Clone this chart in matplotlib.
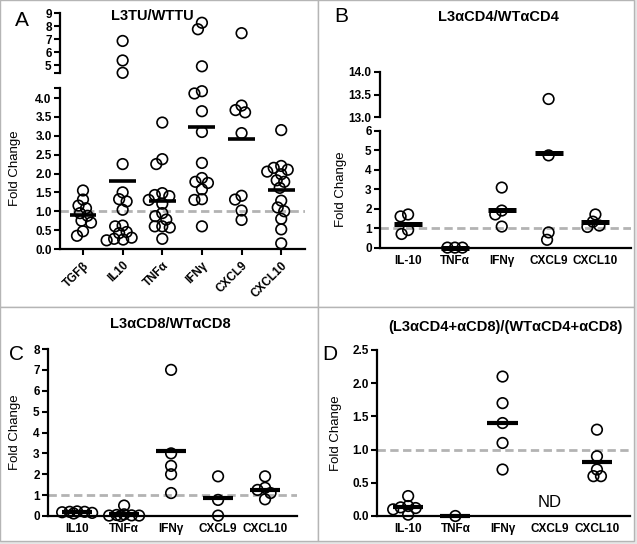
import numpy as np
import matplotlib
matplotlib.use('Agg')
import matplotlib.pyplot as plt
from matplotlib.patches import Rectangle

plt.rcParams['font.family'] = ['Liberation Sans', 'DejaVu Sans']
plt.rcParams['font.weight'] = 'bold'

# Panel A - L3TU/WTTU
cats_a = ['TGFβ', 'IL10', 'TNFα', 'IFNγ', 'CXCL9', 'CXCL10']
tgfb_a = [1.31, 1.55, 1.15, 1.08, 0.95, 0.88, 0.75, 0.70, 0.47, 0.35]
il10_a = [6.85, 5.35, 4.40, 2.25, 1.50, 1.32, 1.26, 1.04, 0.62, 0.60, 0.45, 0.42, 0.30, 0.27, 0.25, 0.23]
tnfa_a = [3.35, 2.38, 2.25, 1.48, 1.43, 1.40, 1.30, 1.20, 0.95, 0.87, 0.78, 0.60, 0.60, 0.57, 0.27]
ifng_a = [8.25, 7.75, 4.90, 4.18, 4.12, 3.65, 3.10, 2.28, 1.88, 1.78, 1.75, 1.58, 1.32, 1.30, 0.60]
cxcl9_a = [7.45, 3.80, 3.68, 3.62, 3.07, 1.41, 1.31, 1.02, 0.77]
cxcl10_a = [3.15, 2.20, 2.15, 2.10, 2.05, 1.98, 1.82, 1.78, 1.62, 1.28, 1.10, 1.00, 0.80, 0.52, 0.15]
mean_a = [0.90, 1.79, 1.28, 3.24, 2.91, 1.57]

# Panel B - L3aCD4/WTaCD4
cats_b = ['IL-10', 'TNFα', 'IFNγ', 'CXCL9', 'CXCL10']
il10_b = [1.72, 1.62, 0.92, 0.72]
tnfa_b = [0.02, 0.02, 0.02]
ifng_b = [3.10, 1.92, 1.72, 1.10]
cxcl9_b = [13.40, 4.75, 0.80, 0.42]
cxcl10_b = [1.72, 1.35, 1.15, 1.08]
mean_b = [1.22, 0.0, 1.95, 4.85, 1.33]

# Panel C - L3aCD8/WTaCD8
cats_c = ['IL10', 'TNFα', 'IFNγ', 'CXCL9', 'CXCL10']
il10_c = [0.22, 0.20, 0.20, 0.18, 0.15, 0.12]
tnfa_c = [0.50, 0.08, 0.05, 0.03, 0.02, 0.02, 0.0]
ifng_c = [7.0, 3.0, 2.4, 2.0, 1.1]
cxcl9_c = [1.9, 0.77, 0.02]
cxcl10_c = [1.9, 1.35, 1.25, 1.10, 0.80]
mean_c = [0.18, 0.10, 3.10, 0.87, 1.25]

# Panel D - (L3aCD4+aCD8)/(WTaCD4+aCD8)
cats_d = ['IL-10', 'TNFα', 'IFNγ', 'CXCL9', 'CXCL10']
il10_d = [0.30, 0.15, 0.13, 0.12, 0.10, 0.02]
tnfa_d = [0.0]
ifng_d = [2.1, 1.7, 1.4, 1.1, 0.7]
cxcl9_d = []
cxcl10_d = [1.3, 0.9, 0.7, 0.6, 0.6]
mean_d = [0.13, 0.0, 1.40, None, 0.82]

W, H = 637, 544
fig = plt.figure(figsize=(W / 100, H / 100), dpi=100)
fig.patch.set_facecolor('#e6e6e6')

# panel frames (pixel boxes -> figure fraction)
for (x0, y0, x1, y1) in [(0, 0, 318, 307), (318, 0, 634, 307), (0, 307, 318, 541), (318, 307, 634, 541)]:
    fig.patches.append(Rectangle((x0 / W, 1 - y1 / H), (x1 - x0) / W, (y1 - y0) / H,
                                 transform=fig.transFigure, facecolor='white',
                                 edgecolor='#b5b5b5', lw=1, zorder=-10))


def make_ax(left, right, top, bottom):
    ax = fig.add_axes([left / W, 1 - bottom / H, (right - left) / W, (bottom - top) / H])
    ax.patch.set_alpha(0)
    for s in ['top', 'right']:
        ax.spines[s].set_visible(False)
    for s in ['left', 'bottom']:
        ax.spines[s].set_linewidth(1.6)
    ax.tick_params(width=1.5, length=4.5, labelsize=8.5, pad=1.5)
    return ax


def swarm(ax, x0, vals, d=7.5, wmax=16):
    # simple beeswarm layout in pixel space, clamped to +-wmax px
    tr = ax.transData
    placed = []
    xs = {}
    order = sorted(range(len(vals)), key=lambda i: -vals[i])
    grid = np.arange(-wmax, wmax + 0.5, 0.5)
    for i in order:
        cx, cy = tr.transform((x0, vals[i]))
        if placed:
            P = np.array(placed)
            dist = np.sqrt((cx + grid[:, None] - P[None, :, 0]) ** 2 + (cy - P[None, :, 1]) ** 2).min(axis=1)
            ok = dist >= d
            if ok.any():
                c = grid[ok][np.argmin(np.abs(grid[ok]))]
            else:
                c = grid[np.argmax(dist)]
        else:
            c = 0.0
        placed.append((cx + c, cy))
        xs[i] = tr.inverted().transform((cx + c, cy))[0]
    return [xs[i] for i in range(len(vals))]


def dots(ax, x0, vals):
    if len(vals) == 0:
        return
    xs = swarm(ax, x0, vals)
    ax.scatter(xs, vals, s=58, facecolors='none', edgecolors='black',
               linewidths=1.2, clip_on=False, zorder=3)


def mean_bar(ax, x0, m, half, lw):
    ax.plot([x0 - half, x0 + half], [m, m], color='black', lw=lw,
            solid_capstyle='butt', zorder=4, clip_on=False)


def dashed(ax):
    ax.axhline(1.0, color='#b3b3b3', lw=2, linestyle=(0, (3, 1.6)), zorder=1)


# ---------------- Panel A ----------------
groups_a = [tgfb_a, il10_a, tnfa_a, ifng_a, cxcl9_a, cxcl10_a]
axa = make_ax(60, 305, 88, 249)
axa_up = make_ax(60, 305, 13, 73)
for ax in (axa, axa_up):
    ax.set_xlim(-0.58, 5.6)
axa.set_ylim(0, 4.265)
axa_up.set_ylim(4.385, 9.0)
axa_up.spines['bottom'].set_visible(False)
axa_up.set_xticks([])
axa.set_yticks(list(np.arange(0, 4.01, 0.5)) + [4.265])
axa.set_yticklabels([f'{v:.1f}' for v in np.arange(0, 4.01, 0.5)] + [''])
axa_up.set_yticks([4.385, 5, 6, 7, 8, 9])
axa_up.set_yticklabels(['', '5', '6', '7', '8', '9'])
axa.set_xticks(range(len(cats_a)))
axa.set_xticklabels(cats_a, rotation=45, ha='right', rotation_mode='anchor')
axa.tick_params(axis='x', pad=3)
dashed(axa)
for i, g in enumerate(groups_a):
    dots(axa, i, [v for v in g if v <= 4.3])
    dots(axa_up, i, [v for v in g if v > 4.3])
    mean_bar(axa, i, mean_a[i], 0.34, 2.6)
axa.set_ylabel('Fold Change', fontsize=9.5)
axa.yaxis.set_label_coords(-0.16, 0.5)
fig.text(152 / W, 1 - 16 / H, 'L3TU/WTTU', ha='center', va='center', fontsize=10.5)
fig.text(22 / W, 1 - 20 / H, 'A', ha='center', va='center', fontsize=15, fontweight='normal')

# ---------------- Panel B ----------------
groups_b = [il10_b, tnfa_b, ifng_b, cxcl9_b, cxcl10_b]
axb = make_ax(380, 631, 131, 248)
axb_up = make_ax(380, 631, 72, 117)
for ax in (axb, axb_up):
    ax.set_xlim(-0.6, 4.76)
axb.set_ylim(0, 6)
axb_up.set_ylim(13, 14)
axb_up.spines['bottom'].set_visible(False)
axb_up.set_xticks([])
axb.set_yticks(range(0, 7))
axb_up.set_yticks([13.0, 13.5, 14.0])
axb_up.set_yticklabels(['13.0', '13.5', '14.0'])
axb.set_xticks(range(len(cats_b)))
axb.set_xticklabels(cats_b)
axb.tick_params(axis='x', length=0, pad=5)
dashed(axb)
for i, g in enumerate(groups_b):
    dots(axb, i, [v for v in g if v <= 6])
    dots(axb_up, i, [v for v in g if v > 6])
    mean_bar(axb, i, mean_b[i], 0.3, 3.6)
axb.set_ylabel('Fold Change', fontsize=9.5)
axb.yaxis.set_label_coords(-0.13, 0.5)
fig.text(498 / W, 1 - 17 / H, 'L3αCD4/WTαCD4', ha='center', va='center', fontsize=10.5)
fig.text(341 / W, 1 - 17 / H, 'B', ha='center', va='center', fontsize=15, fontweight='normal')

# ---------------- Panel C ----------------
groups_c = [il10_c, tnfa_c, ifng_c, cxcl9_c, cxcl10_c]
axc = make_ax(48, 297, 349, 516)
axc.set_xlim(-0.62, 4.68)
axc.set_ylim(0, 8)
axc.set_yticks(range(0, 9))
axc.set_xticks(range(len(cats_c)))
axc.set_xticklabels(cats_c)
axc.tick_params(axis='x', length=0, pad=5)
dashed(axc)
for i, g in enumerate(groups_c):
    dots(axc, i, g)
    mean_bar(axc, i, mean_c[i], 0.32, 3.0)
axc.set_ylabel('Fold Change', fontsize=9.5)
axc.yaxis.set_label_coords(-0.11, 0.5)
fig.text(170 / W, 1 - 324 / H, 'L3αCD8/WTαCD8', ha='center', va='center', fontsize=10.5)
fig.text(16 / W, 1 - 355 / H, 'C', ha='center', va='center', fontsize=15, fontweight='normal')

# ---------------- Panel D ----------------
groups_d = [il10_d, tnfa_d, ifng_d, cxcl9_d, cxcl10_d]
axd = make_ax(377, 630, 350, 516)
axd.set_xlim(-0.66, 4.7)
axd.set_ylim(0, 2.5)
axd.set_yticks(np.arange(0, 2.51, 0.5))
axd.set_yticklabels([f'{v:.1f}' for v in np.arange(0, 2.51, 0.5)])
axd.set_xticks(range(len(cats_d)))
axd.set_xticklabels(cats_d)
axd.tick_params(axis='x', length=0, pad=5)
dashed(axd)
for i, g in enumerate(groups_d):
    dots(axd, i, g)
    if mean_d[i] is not None:
        mean_bar(axd, i, mean_d[i], 0.32, 3.0)
    else:
        axd.text(i, 0.2, 'ND', ha='center', va='center', fontsize=12, fontweight='normal')
axd.set_ylabel('Fold Change', fontsize=9.5)
axd.yaxis.set_label_coords(-0.14, 0.5)
fig.text(505 / W, 1 - 327 / H, '(L3αCD4+αCD8)/(WTαCD4+αCD8)', ha='center', va='center', fontsize=10.5)
fig.text(330 / W, 1 - 354 / H, 'D', ha='center', va='center', fontsize=15, fontweight='normal')

fig.savefig('out.png', dpi=100, facecolor=fig.get_facecolor())
